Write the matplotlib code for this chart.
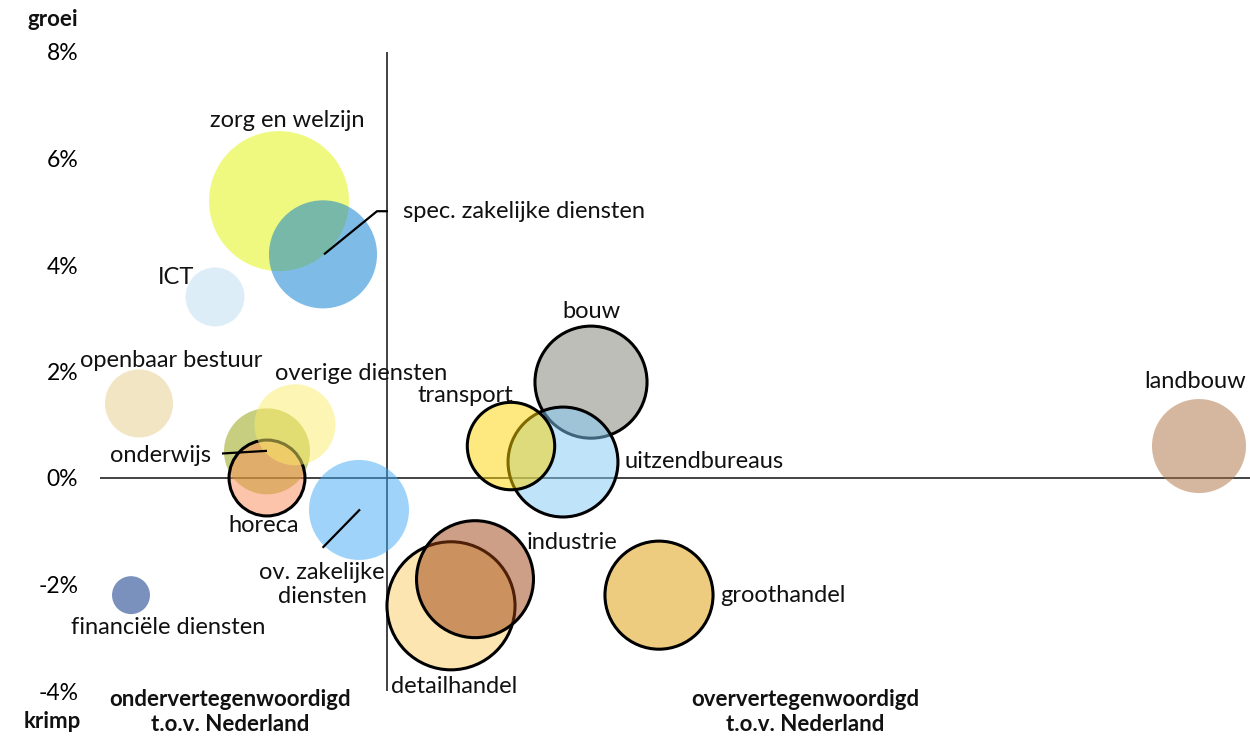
import matplotlib

matplotlib.use("Agg")
import matplotlib.pyplot as plt
from matplotlib.colors import to_rgba

# --- data: sectoren, relatieve vertegenwoordiging (x), groei in % (y), omvang (bubble) ---
SECTOREN = ["zorg en welzijn", "spec. zakelijke diensten", "ICT", "openbaar bestuur",
            "onderwijs", "horeca", "overige diensten", "ov. zakelijke diensten",
            "financiële diensten", "bouw", "uitzendbureaus", "transport",
            "detailhandel", "industrie", "groothandel", "landbouw"]
X = [0.73, 0.84, 0.57, 0.38, 0.70, 0.70, 0.77, 0.93, 0.36,
     1.51, 1.44, 1.31, 1.16, 1.22, 1.68, 3.03]
Y = [5.2, 4.2, 3.4, 1.4, 0.5, 0.0, 1.0, -0.6, -2.2,
     1.8, 0.3, 0.6, -2.4, -1.9, -2.2, 0.6]
OMVANG = [490, 292, 87, 116, 185, 144, 164, 250, 36,
          314, 302, 191, 410, 342, 292, 221]
OMRAND = [False, False, False, False, False, True, False, False, False,
          True, True, True, True, True, True, False]
KLEUR = ["#e1f500", "#0179d1", "#bdddf3", "#e5cd89", "#919f01", "#fb8d59",
         "#fbed69", "#41a9f5", "#7a91be", "#7f7f75", "#81c9f5", "#fdd500",
         "#fbcd65", "#9b410f", "#dd9b00", "#ad7141"]
ALPHA = [0.5] * 8 + [1.0] + [0.5] * 7
YTICKS = [-4, -2, 0, 2, 4, 6, 8]

INK = "#111111"
W, H = 1250, 738
FS = 17
plt.rcParams.update({"font.family": ["Lato", "DejaVu Sans"], "font.size": FS,
                     "text.color": INK})

fig = plt.figure(figsize=(W / 100, H / 100), dpi=100)
ax = fig.add_axes([88 / W, 0, 1 - 88 / W, 1])
fig.patch.set_facecolor("white")


def px_x(p):  # pixel column -> data x
    return 1 + (p - 387) / 400


def px_y(p):  # pixel row -> data y
    return (478 - p) / 53.25


ax.set_xlim(px_x(88), px_x(W))
ax.set_ylim(px_y(H), px_y(0))
for s in ax.spines.values():
    s.set_visible(False)
ax.set_xticks([])
ax.set_yticks(YTICKS)
ax.set_yticklabels([f"{v}%" for v in YTICKS], fontsize=16.5)
ax.tick_params(axis="y", length=0, pad=7)

# axes cross
ax.vlines(1, -4, 8, color="#222222", lw=1.2, zorder=1)
ax.hlines(0, px_x(100), px_x(W), color="#222222", lw=1.2, zorder=1)

# bubbles (one collection, draw order = list order)
sizes = [o * 10 * (2 * 0.72) ** 2 for o in OMVANG]
faces = [to_rgba(c, a) for c, a in zip(KLEUR, ALPHA)]
edges = [(0, 0, 0, 1) if e else (0, 0, 0, 0) for e in OMRAND]
ax.scatter(X, Y, s=sizes, c=faces, edgecolors=edges, linewidths=2.2, zorder=3)

# leader lines
lk = dict(color="black", lw=1.6, zorder=5, solid_capstyle="butt")
ax.plot([0.8425, 0.975, 1.0025], [4.2, 5.01, 5.01], **lk)
ax.plot([0.5875, 0.70], [0.46, 0.51], **lk)
ax.plot([0.9325, 0.839], [-0.59, -1.31], **lk)

# labels
lab = [("zorg en welzijn", 0.75, 6.72, "center"),
       ("spec. zakelijke diensten", 1.04, 5.01, "left"),
       ("ICT", 0.4725, 3.76, "center"),
       ("openbaar bestuur", 0.461, 2.20, "center"),
       ("overige diensten", 0.936, 1.97, "center"),
       ("onderwijs", 0.56, 0.43, "right"),
       ("horeca", 0.691, -0.90, "center"),
       ("ov. zakelijke\ndiensten", 0.8375, -2.0, "center"),
       ("financiële diensten", 0.4525, -2.80, "center"),
       ("bouw", 1.51, 3.12, "center"),
       ("transport", 1.195, 1.55, "center"),
       ("uitzendbureaus", 1.595, 0.31, "left"),
       ("industrie", 1.35, -1.22, "left"),
       ("detailhandel", 1.01, -3.92, "left"),
       ("groothandel", 1.8325, -2.2, "left"),
       ("landbouw", 3.02, 1.81, "center")]
for t, x, y, ha in lab:
    ax.text(x, y, t, ha=ha, va="center", fontsize=FS, zorder=6, linespacing=1.15)

# corner annotations
bold = dict(fontweight="bold", fontsize=16, ha="center", va="center")
fig.text(53 / W, 1 - 20 / H, "groei", **bold)
fig.text(52 / W, 1 - 722 / H, "krimp", **bold)
fig.text(230 / W, 1 - 712 / H, "ondervertegenwoordigd\nt.o.v. Nederland",
         linespacing=1.2, **bold)
fig.text(805 / W, 1 - 712 / H, "oververtegenwoordigd\nt.o.v. Nederland",
         linespacing=1.2, **bold)

fig.savefig("out.png", dpi=100, facecolor="white")
